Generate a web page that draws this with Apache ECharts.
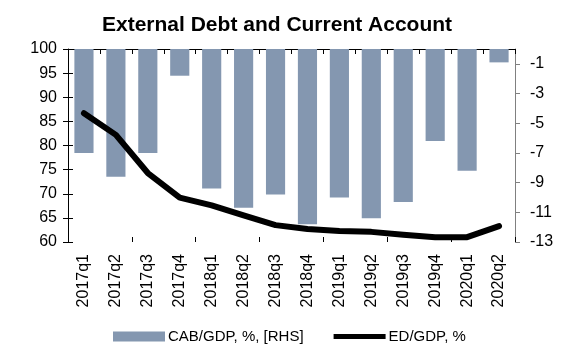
<!DOCTYPE html>
<html>
<head>
<meta charset="utf-8">
<script src="https://cdn.jsdelivr.net/npm/echarts@6/dist/echarts.min.js"></script>
<style>html,body{margin:0;padding:0;background:#fff}#c{width:572px;height:346px}</style>
</head>
<body>
<div id="c"></div>
<script>
const categories = ['2017q1','2017q2','2017q3','2017q4','2018q1','2018q2','2018q3','2018q4','2019q1','2019q2','2019q3','2019q4','2020q1','2020q2'];
const cabGdp = [-7.0, -8.6, -7.0, -1.8, -9.4, -10.7, -9.8, -11.8, -10.0, -11.4, -10.3, -6.2, -8.2, -0.9];
const edGdp = [86.7, 82.2, 74.3, 69.2, 67.6, 65.5, 63.5, 62.7, 62.3, 62.1, 61.5, 61.0, 61.0, 63.3];
const rightTicks = [-13, -11, -9, -7, -5, -3, -1];
const titleText = 'External Debt and Current Account';
const seriesNames = ['CAB/GDP, %, [RHS]', 'ED/GDP, %'];

const font = 'Liberation Sans, Arial, sans-serif';
const chart = echarts.init(document.getElementById('c'), null, {renderer: 'canvas'});
chart.setOption({
  animation: false,
  title: {
    text: titleText, left: 97, top: 10,
    textStyle: {fontFamily: font, fontSize: 21, fontWeight: 'bold', color: '#000'}
  },
  legend: {
    left: 108, top: 324, itemWidth: 52, itemHeight: 10, itemGap: 30,
    textStyle: {fontFamily: font, fontSize: 15, color: '#000', padding: [0,0,0,-2]},
    data: [
      {name: seriesNames[0], icon: 'rect'},
      {name: seriesNames[1], icon: 'path://M0,0 L52,0 L52,5 L0,5 Z'}
    ]
  },
  grid: {left: 68, right: 57, top: 49, bottom: 104},
  xAxis: [{
    type: 'category', data: categories, boundaryGap: true,
    axisLine: {lineStyle: {color: '#000', width: 1}},
    axisTick: {show: true, length: 5, alignWithLabel: false, lineStyle: {color: '#000'}},
    axisLabel: {rotate: 90, fontFamily: font, fontSize: 16, color: '#000', margin: 12, interval: 0}
  }, {
    type: 'category', data: categories, boundaryGap: true, position: 'bottom',
    axisLine: {show: false},
    axisTick: {show: true, inside: true, length: 5, lineStyle: {color: '#000'}},
    axisLabel: {show: false}
  }],
  yAxis: [{
    type: 'value', min: 60, max: 100, interval: 5, position: 'left',
    axisLine: {show: true, lineStyle: {color: '#000'}},
    axisTick: {show: true, length: 5, lineStyle: {color: '#000'}},
    axisLabel: {fontFamily: font, fontSize: 16, color: '#000', margin: 11},
    splitLine: {show: false}
  }, {
    type: 'value', min: -13, max: 0, position: 'right',
    axisLine: {show: true, lineStyle: {color: '#808080'}},
    axisTick: {show: true, length: 5, customValues: rightTicks, lineStyle: {color: '#808080'}},
    axisLabel: {fontFamily: font, fontSize: 16, color: '#000', margin: 15, customValues: rightTicks},
    splitLine: {show: false}
  }, {
    type: 'value', min: 60, max: 100, interval: 5, position: 'left',
    axisLine: {show: false},
    axisTick: {show: true, inside: true, length: 5, lineStyle: {color: '#000'}},
    axisLabel: {show: false},
    splitLine: {show: false}
  }],
  series: [{
    name: seriesNames[0], type: 'bar', yAxisIndex: 1, data: cabGdp,
    barWidth: '60%',
    itemStyle: {color: '#8497b0'}
  }, {
    name: seriesNames[1], type: 'line', yAxisIndex: 0, data: edGdp,
    showSymbol: false, symbol: 'none',
    lineStyle: {color: '#000', width: 6, cap: 'round', join: 'round'},
    itemStyle: {color: '#000'}
  }]
});
</script>
</body>
</html>
